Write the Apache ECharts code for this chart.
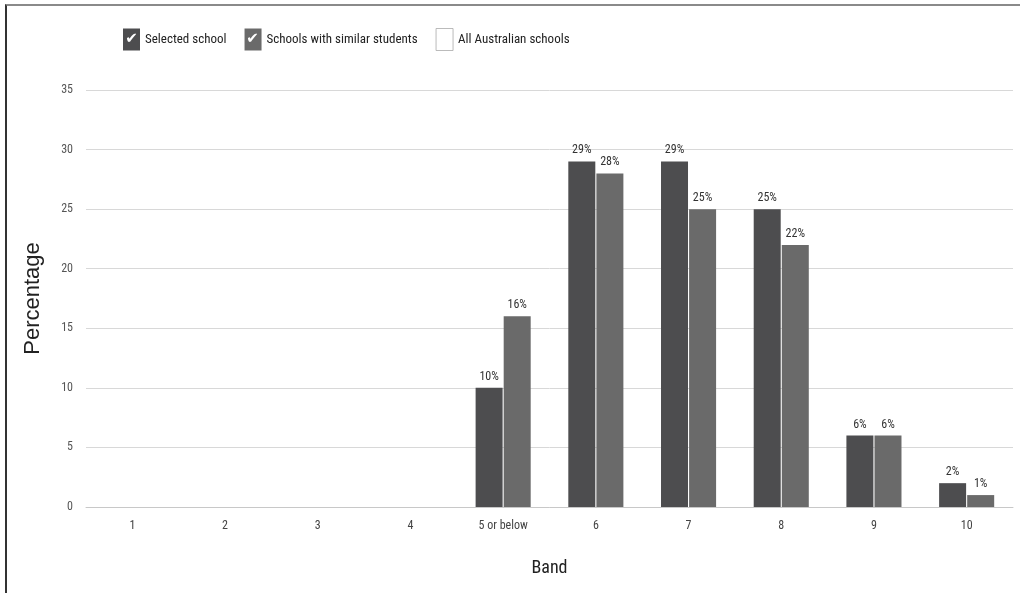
<!DOCTYPE html>
<html>
<head>
<meta charset="utf-8">
<script src="https://cdn.jsdelivr.net/npm/echarts@6/dist/echarts.min.js"></script>
<style>
html,body{margin:0;padding:0;background:#fff;}
#chart{width:1020px;height:593px;}
#frame{position:absolute;left:5px;top:4px;right:0;bottom:0;border-top:2px solid #8a8a8a;border-left:2px solid #333;pointer-events:none;}
</style>
</head>
<body>
<div id="chart"></div>
<div id="frame"></div>
<script>
const categories = ['1','2','3','4','5 or below','6','7','8','9','10'];
const selectedSchool = [null,null,null,null,10,29,29,25,6,2];
const similarSchools = [null,null,null,null,16,28,25,22,6,1];
const seriesNames = ['Selected school','Schools with similar students','All Australian schools'];
const yTicks = {min:0, max:35, interval:5};

const NARROW = '"Roboto Condensed", "Liberation Sans Narrow", Roboto, sans-serif';
const REG = '"Liberation Sans", Arial, sans-serif';

const chart = echarts.init(document.getElementById('chart'));
const labelCfg = {show:true, position:'top', distance:5, color:'#333', fontFamily:NARROW, fontSize:12,
  formatter: p => p.value == null ? '' : p.value + '%'};

chart.setOption({
  animation:false,
  backgroundColor:'#fff',
  legend:{
    left:118, top:23, itemWidth:17, itemHeight:22, itemGap:18,
    textStyle:{fontFamily:NARROW, fontSize:13, color:'#222'},
    selectedMode:false,
    data:[
      {name:seriesNames[0], icon:'rect'},
      {name:seriesNames[1], icon:'rect'},
      {name:seriesNames[2], icon:'rect', itemStyle:{color:'#fff', borderColor:'#aaa', borderWidth:1}}
    ]
  },
  grid:{left:86, right:7, top:90, bottom:86},
  xAxis:{
    type:'category', data:categories,
    axisLine:{lineStyle:{color:'#c8c8c8', width:1}},
    axisTick:{show:false},
    axisLabel:{color:'#444', fontFamily:NARROW, fontSize:12, margin:13},
    name:'Band', nameLocation:'middle', nameGap:52,
    nameTextStyle:{color:'#222', fontFamily:NARROW, fontSize:18}
  },
  yAxis:{
    type:'value', min:yTicks.min, max:yTicks.max, interval:yTicks.interval,
    axisLine:{show:false}, axisTick:{show:false},
    axisLabel:{color:'#555', fontFamily:NARROW, fontSize:12, margin:13},
    splitLine:{lineStyle:{color:'#d8d8d8', width:1}},
    name:'Percentage', nameLocation:'middle', nameGap:42, nameRotate:90,
    nameTextStyle:{color:'#222', fontFamily:REG, fontSize:22}
  },
  series:[
    {name:seriesNames[0], type:'bar', data:selectedSchool, barWidth:27, barGap:'4%',
     itemStyle:{color:'#4d4d4f'}, label:labelCfg},
    {name:seriesNames[1], type:'bar', data:similarSchools, barWidth:27, barGap:'4%',
     itemStyle:{color:'#6a6a6a'}, label:labelCfg},
    {name:seriesNames[2], type:'scatter', data:[], itemStyle:{color:'#fff', borderColor:'#aaa', borderWidth:1}}
  ],
  graphic:[
    {type:'text', x:131.5, y:39.5, z:100, zlevel:1, silent:true,
     style:{text:'\u2714', fill:'#fff', align:'center', verticalAlign:'middle', font:'bold 15px "DejaVu Sans"'}},
    {type:'text', x:252.5, y:39.5, z:100, zlevel:1, silent:true,
     style:{text:'\u2714', fill:'#fff', align:'center', verticalAlign:'middle', font:'bold 15px "DejaVu Sans"'}}
  ]
});
</script>
</body>
</html>
